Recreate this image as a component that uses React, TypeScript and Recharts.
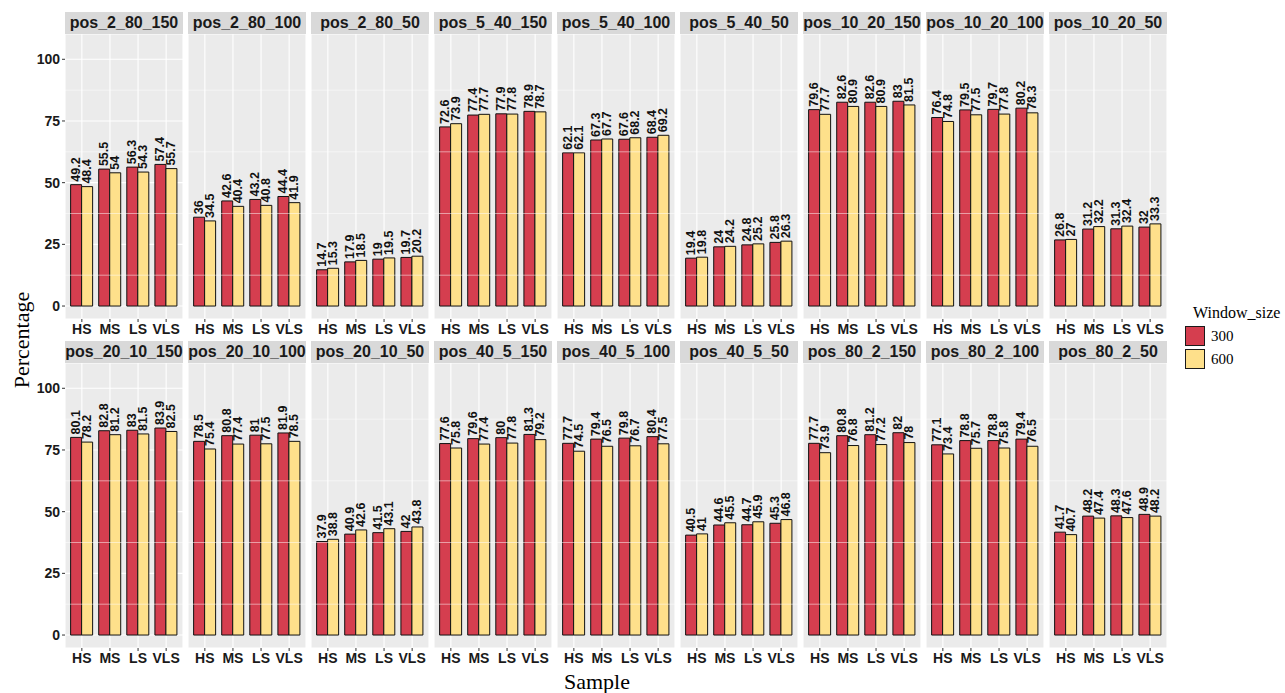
import React from "react";
import {
  BarChart,
  Bar,
  XAxis,
  YAxis,
  CartesianGrid,
  ReferenceLine,
  LabelList,
} from "recharts";

const CATEGORIES = ["HS", "MS", "LS", "VLS"];

const PANELS = [
  "pos_2_80_150", "pos_2_80_100", "pos_2_80_50",
  "pos_5_40_150", "pos_5_40_100", "pos_5_40_50",
  "pos_10_20_150", "pos_10_20_100", "pos_10_20_50",
  "pos_20_10_150", "pos_20_10_100", "pos_20_10_50",
  "pos_40_5_150", "pos_40_5_100", "pos_40_5_50",
  "pos_80_2_150", "pos_80_2_100", "pos_80_2_50",
];

// window size 300, per panel, HS/MS/LS/VLS
const W300 = [
  [49.2, 55.5, 56.3, 57.4], [36, 42.6, 43.2, 44.4], [14.7, 17.9, 19, 19.7],
  [72.6, 77.4, 77.9, 78.9], [62.1, 67.3, 67.6, 68.4], [19.4, 24, 24.8, 25.8],
  [79.6, 82.6, 82.6, 83], [76.4, 79.5, 79.7, 80.2], [26.8, 31.2, 31.3, 32],
  [80.1, 82.8, 83, 83.9], [78.5, 80.8, 81, 81.9], [37.9, 40.9, 41.5, 42],
  [77.6, 79.6, 80, 81.3], [77.7, 79.4, 79.8, 80.4], [40.5, 44.6, 44.7, 45.3],
  [77.7, 80.8, 81.2, 82], [77.1, 78.8, 78.8, 79.4], [41.7, 48.2, 48.3, 48.9],
];

// window size 600
const W600 = [
  [48.4, 54, 54.3, 55.7], [34.5, 40.4, 40.8, 41.9], [15.3, 18.5, 19.5, 20.2],
  [73.9, 77.7, 77.8, 78.7], [62.1, 67.7, 68.2, 69.2], [19.8, 24.2, 25.2, 26.3],
  [77.7, 80.9, 80.9, 81.5], [74.8, 77.5, 77.8, 78.3], [27, 32.2, 32.4, 33.3],
  [78.2, 81.2, 81.5, 82.5], [75.4, 77.4, 77.5, 78.5], [38.8, 42.6, 43.1, 43.8],
  [75.8, 77.4, 77.8, 79.2], [74.5, 76.5, 76.7, 77.5], [41, 45.5, 45.9, 46.8],
  [73.9, 76.8, 77.2, 78], [73.4, 75.7, 75.8, 76.5], [40.7, 47.4, 47.6, 48.2],
];

const Y_TICKS = [0, 25, 50, 75, 100];
const Y_MINOR = [12.5, 37.5, 62.5, 87.5];

const RED = "#D53E4F";
const YELLOW = "#FEE08B";
const SANS = "'Liberation Sans', Arial, Helvetica, sans-serif";
const SERIF = "'Liberation Serif', 'Times New Roman', serif";

const PLOT_W = 118;
const PLOT_H = 285;
const COL_STEP = 123;
const LEFT0 = 65;
const Y_AXIS_W = 50;
const X_AXIS_H = 24;
const ROW_TOPS = [34, 363];
const STRIP_H = 22;

const renderLabel = (props: any) => {
  const { x, y, width, value } = props;
  const cx = Number(x) + Number(width) / 2;
  const ty = Number(y) - 3;
  return (
    <text
      x={cx}
      y={ty}
      dy="0.3em"
      transform={`rotate(-90 ${cx} ${ty})`}
      textAnchor="start"
      fontSize={12.5}
      fontWeight="bold"
      fontFamily={SANS}
      fill="#111"
    >
      {value}
    </text>
  );
};

function Panel({ index }: { index: number }) {
  const row = Math.floor(index / 9);
  const col = index % 9;
  const first = col === 0;
  const data = CATEGORIES.map((c, i) => ({
    sample: c,
    w300: W300[index][i],
    w600: W600[index][i],
  }));
  const plotLeft = LEFT0 + col * COL_STEP;
  const chartLeft = first ? plotLeft - Y_AXIS_W : plotLeft;
  const width = first ? PLOT_W + Y_AXIS_W : PLOT_W;
  const tickStyle = { fontSize: 14, fontWeight: "bold", fill: "#1a1a1a", fontFamily: SANS };

  return (
    <>
      <div
        style={{
          position: "absolute",
          left: plotLeft,
          top: ROW_TOPS[row] - STRIP_H,
          width: PLOT_W,
          height: STRIP_H,
          background: "#D9D9D9",
          fontFamily: SANS,
          fontWeight: "bold",
          fontSize: 16,
          lineHeight: `${STRIP_H}px`,
          textAlign: "center",
          color: "#1a1a1a",
          whiteSpace: "nowrap",
        }}
      >
        {PANELS[index]}
      </div>
      <div style={{ position: "absolute", left: chartLeft, top: ROW_TOPS[row] }}>
        <BarChart
          width={width}
          height={PLOT_H + X_AXIS_H}
          data={data}
          margin={{ top: 0, right: 0, bottom: 0, left: 0 }}
          barCategoryGap="10%"
          barGap={0}
        >
          <CartesianGrid fill="#EBEBEB" fillOpacity={1} stroke="#FFFFFF" strokeWidth={1.1} />
          {Y_MINOR.map((v) => (
            <ReferenceLine key={v} y={v} stroke="#FFFFFF" strokeWidth={0.5} />
          ))}
          <XAxis
            dataKey="sample"
            type="category"
            padding={{ left: 2.8, right: 2.8 }}
            height={X_AXIS_H}
            axisLine={false}
            tickLine={{ stroke: "#333" }}
            tickSize={3}
            tickMargin={2}
            tick={tickStyle}
            interval={0}
          />
          <YAxis
            type="number"
            domain={[-5.25, 110.25]}
            ticks={Y_TICKS}
            allowDataOverflow
            width={first ? Y_AXIS_W : 0}
            axisLine={false}
            tickLine={first ? { stroke: "#333" } : false}
            tickSize={3}
            tickMargin={2}
            tick={first ? tickStyle : false}
          />
          <Bar dataKey="w300" fill={RED} stroke="#111" strokeWidth={1} isAnimationActive={false}>
            <LabelList dataKey="w300" content={renderLabel} />
          </Bar>
          <Bar dataKey="w600" fill={YELLOW} stroke="#111" strokeWidth={1} isAnimationActive={false}>
            <LabelList dataKey="w600" content={renderLabel} />
          </Bar>
        </BarChart>
      </div>
    </>
  );
}

export default function App() {
  return (
    <div
      style={{
        position: "absolute",
        left: 0,
        top: 0,
        width: 1285,
        height: 693,
        background: "#FFFFFF",
        overflow: "hidden",
      }}
    >
      {PANELS.map((_, i) => (
        <Panel key={i} index={i} />
      ))}
      <div
        style={{
          position: "absolute",
          left: 22,
          top: 340,
          transform: "translate(-50%, -50%) rotate(-90deg)",
          fontFamily: SERIF,
          fontSize: 22,
          color: "#000",
          whiteSpace: "nowrap",
        }}
      >
        Percentage
      </div>
      <div
        style={{
          position: "absolute",
          left: 597,
          top: 682,
          transform: "translate(-50%, -50%)",
          fontFamily: SERIF,
          fontSize: 22,
          color: "#000",
          whiteSpace: "nowrap",
        }}
      >
        Sample
      </div>
      <div style={{ position: "absolute", left: 1185, top: 304, fontFamily: SERIF, color: "#000" }}>
        <div style={{ fontSize: 16, marginLeft: 8, whiteSpace: "nowrap", marginBottom: 3 }}>Window_size</div>
        {[
          { name: "300", color: RED },
          { name: "600", color: YELLOW },
        ].map((k) => (
          <div key={k.name} style={{ display: "flex", alignItems: "center", height: 22, marginBottom: 1 }}>
            <div
              style={{
                width: 20,
                height: 20,
                background: k.color,
                border: "1px solid #1a1a1a",
                boxSizing: "border-box",
              }}
            />
            <span style={{ fontSize: 15, marginLeft: 6 }}>{k.name}</span>
          </div>
        ))}
      </div>
    </div>
  );
}
